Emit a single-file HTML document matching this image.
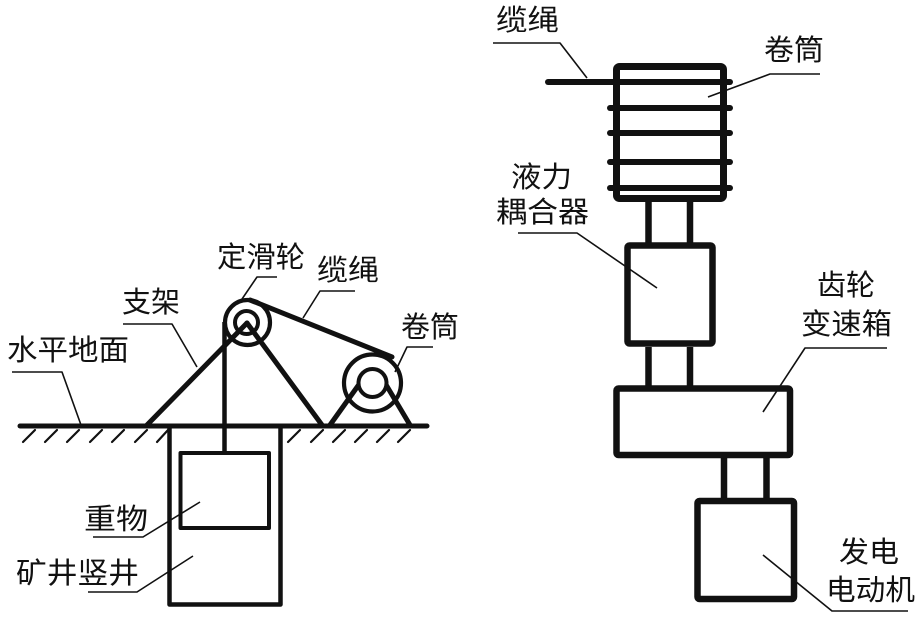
<!DOCTYPE html>
<html><head><meta charset="utf-8"><style>
html,body{margin:0;padding:0;background:#fff;}
svg{display:block;}
text{font-family:"Liberation Sans","Noto Sans CJK SC",sans-serif;font-size:29px;fill:#111;}
</style></head><body>
<svg width="921" height="620" viewBox="0 0 921 620" xmlns="http://www.w3.org/2000/svg">
<rect width="921" height="620" fill="#fff"/>
<g stroke="#111" fill="none" stroke-linecap="round" stroke-linejoin="round">
<!-- ground -->
<line x1="20" y1="426" x2="427" y2="426" stroke-width="5"/>
<g stroke-width="2.2">
<line x1="23" y1="442" x2="35" y2="430"/>
<line x1="45" y1="442" x2="57" y2="430"/>
<line x1="67" y1="442" x2="79" y2="430"/>
<line x1="90" y1="442" x2="102" y2="430"/>
<line x1="112" y1="442" x2="124" y2="430"/>
<line x1="135" y1="442" x2="147" y2="430"/>
<line x1="157" y1="442" x2="168" y2="430"/>
<line x1="288" y1="442" x2="300" y2="430"/>
<line x1="311" y1="442" x2="323" y2="430"/>
<line x1="333" y1="442" x2="345" y2="430"/>
<line x1="355" y1="442" x2="367" y2="430"/>
<line x1="377" y1="442" x2="389" y2="430"/>
<line x1="398" y1="442" x2="410" y2="430"/>
</g>
<!-- shaft -->
<polyline points="169.5,426 169.5,604.5 280.5,604.5 280.5,426" stroke-width="4.5" stroke-linecap="butt"/>
<!-- weight -->
<rect x="180.5" y="453" width="88.5" height="75" stroke-width="4"/>
<!-- rope vertical -->
<line x1="224.5" y1="322" x2="224.5" y2="453" stroke-width="4.5" stroke-linecap="butt"/>
<!-- frame legs -->
<line x1="147" y1="425" x2="247" y2="323" stroke-width="5"/>
<line x1="247" y1="323" x2="322" y2="425" stroke-width="5"/>
<!-- pulley -->
<circle cx="247.5" cy="322.5" r="22.5" stroke-width="4.2"/>
<circle cx="246.5" cy="322.5" r="11.5" stroke-width="4"/>
<!-- rope to drum -->
<line x1="250" y1="300" x2="392" y2="357" stroke-width="5"/>
<!-- drum supports -->
<line x1="330" y1="425" x2="360" y2="383" stroke-width="5"/>
<line x1="410" y1="425" x2="385" y2="383" stroke-width="5"/>
<circle cx="372.5" cy="383" r="28.5" stroke-width="4.2"/>
<circle cx="372.5" cy="383" r="14" stroke-width="4" fill="#fff"/>

<!-- right diagram -->
<rect x="616.5" y="66.5" width="107" height="132" rx="3" stroke-width="7"/>
<g stroke-width="6">
<line x1="548" y1="82" x2="730" y2="82"/>
<line x1="610" y1="108" x2="730" y2="108"/>
<line x1="610" y1="133" x2="730" y2="133"/>
<line x1="610" y1="162" x2="730" y2="162"/>
<line x1="610" y1="188" x2="730" y2="188"/>
</g>
<g stroke-width="6.5" stroke-linecap="butt">
<line x1="648.5" y1="200" x2="648.5" y2="243"/>
<line x1="690" y1="200" x2="690" y2="243"/>
<line x1="648.5" y1="347" x2="648.5" y2="387"/>
<line x1="690" y1="347" x2="690" y2="387"/>
<line x1="724" y1="457" x2="724" y2="499"/>
<line x1="766.5" y1="457" x2="766.5" y2="499"/>
</g>
<rect x="627.5" y="245.5" width="85" height="98" rx="2" stroke-width="6.5"/>
<rect x="616.5" y="388.5" width="173.5" height="66.5" rx="2" stroke-width="6.5"/>
<rect x="697.5" y="501" width="96.5" height="98" rx="2" stroke-width="6.5"/>

<!-- leaders -->
<g stroke-width="1.6" stroke-linecap="butt">
<polyline points="12,372 62,372 81,425"/>
<polyline points="123,324 172,324 197,367"/>
<polyline points="277,277 257,277 240,302"/>
<polyline points="355,291 320,291 303,318"/>
<polyline points="433,347 407,347 395,372"/>
<polyline points="93,537 143,537 200,502"/>
<polyline points="88,592 137,592 193,556"/>
<polyline points="493,43 560,43 587,78"/>
<polyline points="820,74 770,74 708,97"/>
<polyline points="518,233 577,233 657,288"/>
<polyline points="887,348 805,348 763,412"/>
<polyline points="908,611 832,611 763,555"/>
</g>
</g>
<g>
<text x="217" y="267" textLength="88" lengthAdjust="spacingAndGlyphs">定滑轮</text>
<text x="317" y="280" textLength="62" lengthAdjust="spacingAndGlyphs">缆绳</text>
<text x="122" y="312" textLength="58" lengthAdjust="spacingAndGlyphs">支架</text>
<text x="7" y="360" textLength="122" lengthAdjust="spacingAndGlyphs">水平地面</text>
<text x="401" y="337" textLength="58" lengthAdjust="spacingAndGlyphs">卷筒</text>
<text x="84" y="529" textLength="64" lengthAdjust="spacingAndGlyphs">重物</text>
<text x="16" y="583" textLength="123" lengthAdjust="spacingAndGlyphs">矿井竖井</text>
<text x="496" y="30" textLength="63" lengthAdjust="spacingAndGlyphs">缆绳</text>
<text x="764" y="60" textLength="60" lengthAdjust="spacingAndGlyphs">卷筒</text>
<text x="511" y="187" textLength="61" lengthAdjust="spacingAndGlyphs">液力</text>
<text x="496" y="222" textLength="93" lengthAdjust="spacingAndGlyphs">耦合器</text>
<text x="817" y="295" textLength="58" lengthAdjust="spacingAndGlyphs">齿轮</text>
<text x="801" y="334" textLength="91" lengthAdjust="spacingAndGlyphs">变速箱</text>
<text x="839" y="562" textLength="60" lengthAdjust="spacingAndGlyphs">发电</text>
<text x="826" y="600" textLength="89" lengthAdjust="spacingAndGlyphs">电动机</text>
</g>
</svg>
</body></html>
